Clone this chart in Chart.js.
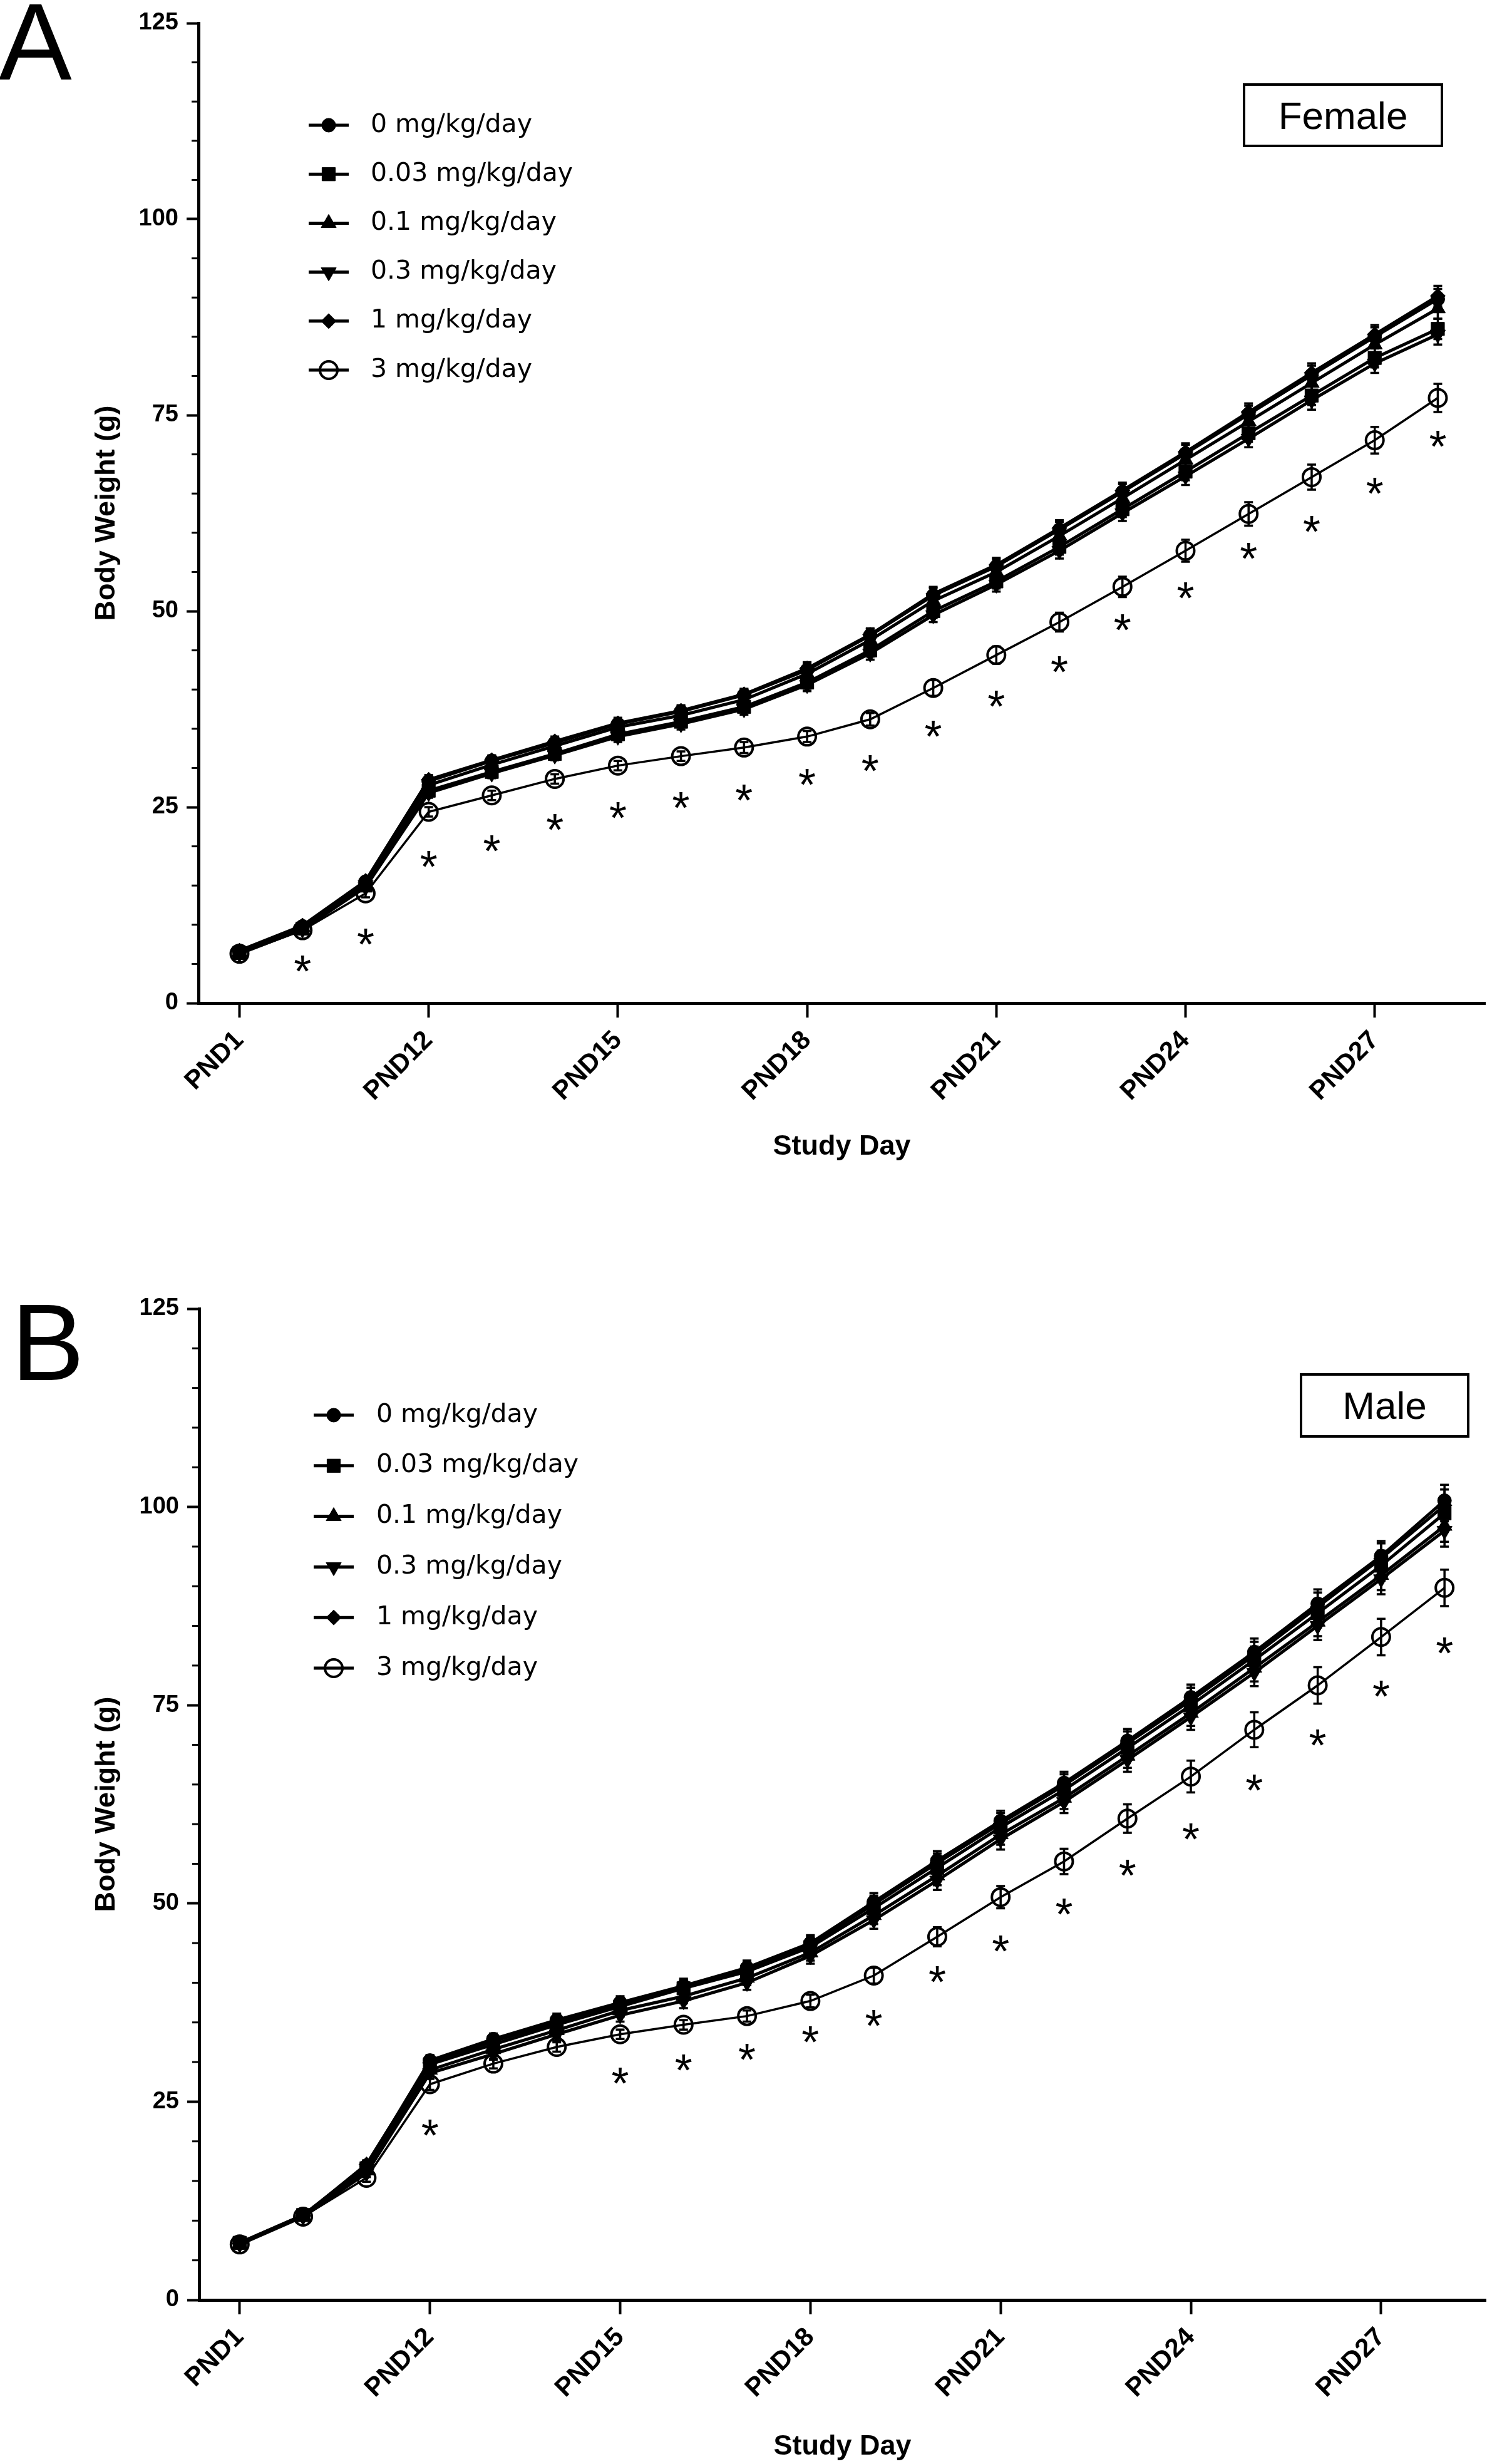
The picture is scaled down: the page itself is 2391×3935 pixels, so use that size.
<!DOCTYPE html>
<html>
<head>
<meta charset="utf-8">
<script src="https://cdn.jsdelivr.net/npm/chart.js@4.4.1/dist/chart.umd.min.js"></script>
<style>
  html, body { margin:0; padding:0; background:#fff; }
  body { width:2391px; height:3935px; position:relative; overflow:hidden; }
  canvas { position:absolute; left:0; }
  .letter { position:absolute; font-family:'Liberation Sans', Arial, sans-serif; font-size:175px; line-height:1; color:#000; }
  .sexbox { position:absolute; border:4px solid #000; box-sizing:border-box; font-family:'Liberation Sans', Arial, sans-serif;
            font-size:62px; display:flex; align-items:center; justify-content:center; color:#000; background:#fff; }
</style>
</head>
<body>
<div class="letter" style="left:-2px; top:-21px;">A</div>
<div class="letter" style="left:18px; top:2056px;">B</div>
<canvas id="chartA" width="2391" height="1864" style="top:0px;"></canvas>
<canvas id="chartB" width="2391" height="1882" style="top:2053px;"></canvas>
<div class="sexbox" style="left:1985px; top:133px; width:320px; height:102px;">Female</div>
<div class="sexbox" style="left:2076px; top:2193px; width:271px; height:103px;">Male</div>

<script>
// ---------------- DATA ----------------
const studyDays = ['PND1','PND4','PND8','PND12','PND13','PND14','PND15','PND16','PND17','PND18',
                   'PND19','PND20','PND21','PND22','PND23','PND24','PND25','PND26','PND27','PND28'];
const shownDayIdx = [0, 3, 6, 9, 12, 15, 18];
const yTickValues = [0, 25, 50, 75, 100, 125];
const doseLabels = ['0 mg/kg/day','0.03 mg/kg/day','0.1 mg/kg/day','0.3 mg/kg/day','1 mg/kg/day','3 mg/kg/day'];

// Female body weight (g)
const female_0    = [6.6, 9.8, 15.5, 28.3, 30.9, 33.2, 35.6, 37.2, 39.3, 42.5, 46.9, 52.0, 55.7, 60.4, 65.2, 70.1, 75.1, 80.1, 85.0, 89.8];
const female_0_03 = [6.4, 9.5, 15.0, 27.1, 29.5, 31.8, 34.3, 35.9, 37.8, 40.9, 45.0, 50.0, 53.8, 58.2, 63.0, 67.8, 72.7, 77.5, 82.3, 86.0];
const female_0_1  = [6.5, 9.7, 15.3, 27.8, 30.4, 32.8, 35.2, 36.7, 38.7, 42.0, 46.3, 51.3, 55.0, 59.6, 64.4, 69.3, 74.2, 79.1, 84.0, 88.6];
const female_0_3  = [6.3, 9.4, 14.8, 26.8, 29.3, 31.6, 34.0, 35.6, 37.5, 40.6, 44.6, 49.5, 53.4, 57.7, 62.5, 67.2, 72.0, 76.9, 81.6, 85.3];
const female_1    = [6.7, 9.9, 15.6, 28.5, 31.0, 33.4, 35.7, 37.3, 39.4, 42.7, 47.0, 52.2, 55.9, 60.6, 65.4, 70.3, 75.4, 80.4, 85.3, 90.2];
const female_3    = [6.3, 9.3, 14.0, 24.4, 26.5, 28.6, 30.3, 31.5, 32.6, 34.0, 36.2, 40.2, 44.4, 48.6, 53.1, 57.7, 62.4, 67.1, 71.8, 77.2];
// Female SEM
const femaleSem_ctl = [0.2, 0.3, 0.4, 0.6, 0.6, 0.6, 0.7, 0.7, 0.7, 0.8, 0.8, 0.9, 0.9, 1.0, 1.0, 1.1, 1.1, 1.2, 1.2, 1.3];
const femaleSem_3   = [0.2, 0.3, 0.5, 0.6, 0.6, 0.6, 0.6, 0.6, 0.7, 0.7, 0.8, 1.0, 1.1, 1.2, 1.3, 1.4, 1.5, 1.6, 1.7, 1.8];
// Female significance asterisks (plotted position, g)
const femaleStars = [null, 5.0, 8.5, 18.4, 20.4, 23.1, 24.6, 25.9, 26.8, 28.8, 30.6, 35.0, 38.8, 43.2, 48.6, 52.6, 57.7, 61.1, 66.0, 72.0];

// Male body weight (g)
const male_0    = [7.2, 10.7, 16.9, 30.2, 32.9, 35.3, 37.5, 39.6, 41.9, 45.0, 50.2, 55.4, 60.4, 65.2, 70.5, 76.0, 81.7, 87.8, 93.8, 100.8];
const male_0_03 = [7.2, 10.7, 16.6, 29.7, 32.2, 34.7, 37.0, 39.3, 41.4, 44.5, 49.4, 54.5, 59.6, 64.3, 69.6, 75.0, 80.7, 86.6, 92.6, 99.2];
const male_0_1  = [7.1, 10.6, 16.3, 29.0, 31.6, 34.0, 36.5, 38.3, 40.6, 43.8, 48.5, 53.5, 58.7, 63.3, 68.6, 74.0, 79.7, 85.5, 91.4, 97.6];
const male_0_3  = [7.0, 10.5, 16.0, 28.6, 31.0, 33.5, 35.9, 37.7, 40.0, 43.4, 47.9, 52.9, 58.1, 62.8, 68.1, 73.5, 79.1, 85.0, 90.9, 97.0];
const male_1    = [7.1, 10.6, 17.1, 29.9, 32.6, 35.0, 37.3, 39.4, 41.7, 44.8, 49.9, 55.1, 60.1, 64.9, 70.2, 75.6, 81.3, 87.4, 93.5, 100.2];
const male_3    = [7.0, 10.5, 15.4, 27.2, 29.8, 31.9, 33.5, 34.7, 35.8, 37.7, 40.9, 45.8, 50.8, 55.3, 60.7, 66.0, 71.9, 77.5, 83.6, 89.8];
// Male SEM
const maleSem_ctl = [0.2, 0.3, 0.5, 0.7, 0.7, 0.8, 0.8, 0.9, 0.9, 1.0, 1.1, 1.2, 1.3, 1.4, 1.5, 1.6, 1.7, 1.8, 1.9, 2.0];
const maleSem_3   = [0.2, 0.3, 0.5, 0.7, 0.6, 0.6, 0.6, 0.6, 0.7, 0.8, 1.0, 1.2, 1.4, 1.6, 1.8, 2.0, 2.2, 2.3, 2.3, 2.3];
// Male significance asterisks (plotted position, g)
const maleStars = [null, null, null, 21.7, null, null, 28.3, 29.9, 31.3, 33.5, 35.5, 41.1, 44.9, 49.6, 54.5, 59.1, 65.2, 70.9, 77.1, 82.5];

// ---------------- STYLES ----------------
const sansFont = "'Liberation Sans', Arial, sans-serif";
const markerStyles = [
  { pointStyle:'circle',   radius:11, rotation:0,   fill:'#000', line:5,   pbw:1 },
  { pointStyle:'rect',     radius:15, rotation:0,   fill:'#000', line:5,   pbw:1 },
  { pointStyle:'triangle', radius:14, rotation:0,   fill:'#000', line:5,   pbw:1 },
  { pointStyle:'triangle', radius:14, rotation:180, fill:'#000', line:5,   pbw:1 },
  { pointStyle:'rectRot',  radius:12, rotation:0,   fill:'#000', line:5,   pbw:1 },
  { pointStyle:'circle',   radius:14, rotation:0,   fill:'rgba(0,0,0,0)', line:3.5, pbw:4 }
];

// ---------------- PLUGINS ----------------
const errorBarPlugin = {
  id: 'errorBars',
  beforeDatasetsDraw(chart) {
    const { ctx, scales: { x, y } } = chart;
    ctx.save();
    ctx.strokeStyle = '#000';
    ctx.lineWidth = 3.5;
    chart.data.datasets.forEach(ds => {
      if (!ds.errors) return;
      ds.data.forEach((p, i) => {
        const e = ds.errors[i];
        if (!e) return;
        const px = x.getPixelForValue(p.x);
        const y1 = y.getPixelForValue(p.y + e);
        const y2 = y.getPixelForValue(p.y - e);
        ctx.beginPath();
        ctx.moveTo(px, y1); ctx.lineTo(px, y2);
        ctx.moveTo(px - 7, y1); ctx.lineTo(px + 7, y1);
        ctx.moveTo(px - 7, y2); ctx.lineTo(px + 7, y2);
        ctx.stroke();
      });
    });
    ctx.restore();
  }
};

const minorTickPlugin = {
  id: 'minorTicks',
  afterDraw(chart) {
    const { ctx, scales: { y }, chartArea } = chart;
    ctx.save();
    ctx.strokeStyle = '#000';
    ctx.lineWidth = 3;
    for (let v = 5; v < 125; v += 5) {
      if (v % 25 === 0) continue;
      const py = y.getPixelForValue(v);
      ctx.beginPath();
      ctx.moveTo(chartArea.left - 11, py);
      ctx.lineTo(chartArea.left, py);
      ctx.stroke();
    }
    ctx.restore();
  }
};

const starPlugin = {
  id: 'sigStars',
  afterDatasetsDraw(chart, args, opts) {
    const { ctx, scales: { x, y } } = chart;
    const stars = opts.values || [];
    ctx.save();
    ctx.fillStyle = '#000';
    ctx.font = "72px " + sansFont;
    ctx.textAlign = 'center';
    ctx.textBaseline = 'alphabetic';
    const m = ctx.measureText('*');
    const mid = (m.actualBoundingBoxAscent - m.actualBoundingBoxDescent) / 2;
    stars.forEach((v, i) => {
      if (v === null) return;
      ctx.fillText('*', x.getPixelForValue(i), y.getPixelForValue(v) + mid);
    });
    ctx.restore();
  }
};

const insetLegendPlugin = {
  id: 'insetLegend',
  afterDraw(chart, args, opts) {
    const ctx = chart.ctx;
    chart.data.datasets.forEach((ds, k) => {
      const yy = opts.y0 + opts.dy * k;
      ctx.save();
      ctx.strokeStyle = '#000';
      ctx.lineWidth = 5;
      ctx.beginPath();
      ctx.moveTo(opts.cx - opts.half, yy);
      ctx.lineTo(opts.cx + opts.half, yy);
      ctx.stroke();
      ctx.fillStyle = ds.pointBackgroundColor;
      ctx.strokeStyle = '#000';
      ctx.lineWidth = ds.pointBorderWidth;
      Chart.helpers.drawPoint(ctx, {
        pointStyle: ds.pointStyle, rotation: ds.pointRotation,
        radius: ds.pointRadius, borderWidth: ds.pointBorderWidth
      }, opts.cx, yy);
      ctx.fillStyle = '#000';
      ctx.font = "41px 'DejaVu Sans', sans-serif";
      ctx.textAlign = 'left';
      ctx.textBaseline = 'middle';
      ctx.fillText(ds.label, opts.textX, yy);
      ctx.restore();
    });
  }
};

// ---------------- CHART BUILDER ----------------
function buildChart(canvasId, cfg) {
  const datasets = cfg.series.map((vals, k) => {
    const st = markerStyles[k];
    return {
      label: doseLabels[k],
      data: vals.map((v, i) => ({ x: i, y: v })),
      errors: cfg.errors[k],
      borderColor: '#000',
      borderWidth: st.line,
      pointStyle: st.pointStyle,
      pointRadius: st.radius,
      pointRotation: st.rotation,
      pointBackgroundColor: st.fill,
      pointBorderColor: '#000',
      pointBorderWidth: st.pbw,
      tension: 0,
      fill: false
    };
  });

  return new Chart(document.getElementById(canvasId), {
    type: 'line',
    data: { datasets },
    options: {
      responsive: false,
      animation: false,
      devicePixelRatio: 1,
      layout: { padding: { left: 0, right: cfg.padRight, top: 37, bottom: 0 } },
      plugins: {
        legend: { display: false },
        tooltip: { enabled: false },
        sigStars: { values: cfg.stars },
        insetLegend: cfg.legend
      },
      scales: {
        x: {
          type: 'linear',
          min: cfg.xmin, max: cfg.xmax,
          afterBuildTicks: s => { s.ticks = shownDayIdx.map(v => ({ value: v })); },
          afterFit: s => { s.height = cfg.xHeight; s.paddingLeft = 0; s.paddingRight = 0; },
          ticks: {
            autoSkip: false, minRotation: 45, maxRotation: 45, padding: 12,
            color: '#000',
            font: { family: sansFont, size: 42, weight: 'bold' },
            callback: v => studyDays[v]
          },
          grid: { drawOnChartArea: false, drawTicks: true, tickLength: 23, tickWidth: 4, tickColor: '#000' },
          border: { display: true, color: '#000', width: 5 },
          title: {
            display: true, text: 'Study Day', color: '#000',
            font: { family: sansFont, size: 45, weight: 'bold' },
            padding: { top: 0, bottom: cfg.titlePadBottom }
          }
        },
        y: {
          min: 0, max: 125,
          afterBuildTicks: s => { s.ticks = yTickValues.map(v => ({ value: v })); },
          afterFit: s => { s.width = cfg.yWidth; s.paddingTop = 0; s.paddingBottom = 0; },
          ticks: {
            padding: 13, color: '#000',
            font: { family: sansFont, size: 38, weight: 'bold' }
          },
          grid: { drawOnChartArea: false, drawTicks: true, tickLength: 19, tickWidth: 4, tickColor: '#000' },
          border: { display: true, color: '#000', width: 5 },
          title: {
            display: true, text: 'Body Weight (g)', color: '#000',
            font: { family: sansFont, size: 45, weight: 'bold' },
            padding: { top: 144, bottom: 0 }
          }
        }
      }
    },
    plugins: [errorBarPlugin, minorTickPlugin, starPlugin, insetLegendPlugin]
  });
}

buildChart('chartA', {
  series: [female_0, female_0_03, female_0_1, female_0_3, female_1, female_3],
  errors: [femaleSem_ctl, femaleSem_ctl, femaleSem_ctl, femaleSem_ctl, femaleSem_ctl, femaleSem_3],
  stars: femaleStars,
  xmin: -0.65, xmax: 19.75, padRight: 19, yWidth: 317, xHeight: 262, titlePadBottom: 5,
  legend: { cx: 525, half: 32, textX: 592, y0: 200, dy: 78.2 }
});

buildChart('chartB', {
  series: [male_0, male_0_03, male_0_1, male_0_3, male_1, male_3],
  errors: [maleSem_ctl, maleSem_ctl, maleSem_ctl, maleSem_ctl, maleSem_ctl, maleSem_3],
  stars: maleStars,
  xmin: -0.64, xmax: 19.65, padRight: 6, yWidth: 318, xHeight: 262, titlePadBottom: 0,
  legend: { cx: 533, half: 32, textX: 601, y0: 207, dy: 80.8 }
});
</script>
</body>
</html>
